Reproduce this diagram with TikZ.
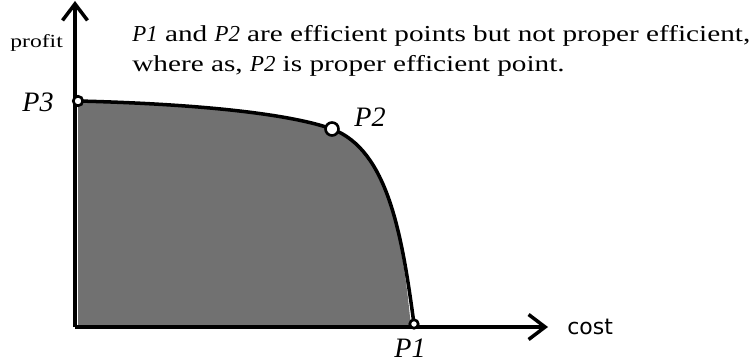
\documentclass[tikz,border=0pt]{standalone}
\usepackage{fontspec}
\setmainfont{Liberation Serif}
\newfontfamily\notefont[FakeStretch=1.28]{Liberation Serif}
\newfontfamily\axisfont{DejaVu Sans}
\usetikzlibrary{arrows.meta,calc}
\definecolor{ink}{HTML}{000000}
\definecolor{regionfill}{HTML}{717171}
\newcommand{\ptname}[1]{{\rmfamily\itshape #1}}
\tikzset{
  ax/.style={-{Straight Barb[length=3.3mm,width=5mm,line width=2pt]},line width=2.3pt,draw=ink},
  front/.style={line width=2pt,draw=ink},
  pt/.style={circle,draw=ink,fill=white,line width=1.5pt,inner sep=0pt,minimum size=2.3mm},
  lbl/.style={font=\fontsize{16}{18}\selectfont\itshape,inner sep=0pt},
}
\begin{document}
\begin{tikzpicture}[x=0.02cm,y=-0.02cm]
\useasboundingbox (0,0) rectangle (753,364);

% ---- points on the frontier
\coordinate (o) at (75,327);
\coordinate (p3) at (78,101);
\coordinate (p2) at (332,129);
\coordinate (p1) at (414,324);

% ---- shaded region under the frontier
\fill[regionfill] (p3) .. controls (200,104) and (290,114) .. (p2)
  .. controls (388,150) and (402,235) .. (411,327) -- (78,327) -- cycle;
\draw[front] (p3) .. controls (200,104) and (290,114) .. (p2)
  .. controls (388,150) and (402,235) .. (p1);

% ---- axes
\draw[ax] (o) -- (75,1) coordinate (ytip);
\draw[ax] (o) -- (548,327) coordinate (xtip);
\node[pt,minimum size=1.9mm] (c3) at (p3) {};
\node[pt,minimum size=2.6mm] (c2) at (p2) {};
\node[pt,minimum size=1.7mm] (c1) at (p1) {};

% ---- labels
\node[font=\notefont\fontsize{10.5}{12}\selectfont,anchor=base west,inner sep=0pt] (lprofit) at (10,48) {profit};
\node[font=\axisfont\fontsize{12.5}{14}\selectfont,anchor=west,inner sep=0pt] (lcost) at (567,327) {cost};
\node[lbl] (l3) at (38,102) {P3};
\node[lbl] (l2) at (370,117) {P2};
\node[lbl] (l1) at (410,348) {P1};
\node[font=\notefont\fontsize{13}{17.6}\selectfont,align=left,anchor=base west,inner sep=0pt] (note) at (132,72)
  {\ptname{P1} and \ptname{P2} are efficient points but not proper efficient,\\
   where as, \ptname{P2} is proper efficient point.};
\end{tikzpicture}
\end{document}
